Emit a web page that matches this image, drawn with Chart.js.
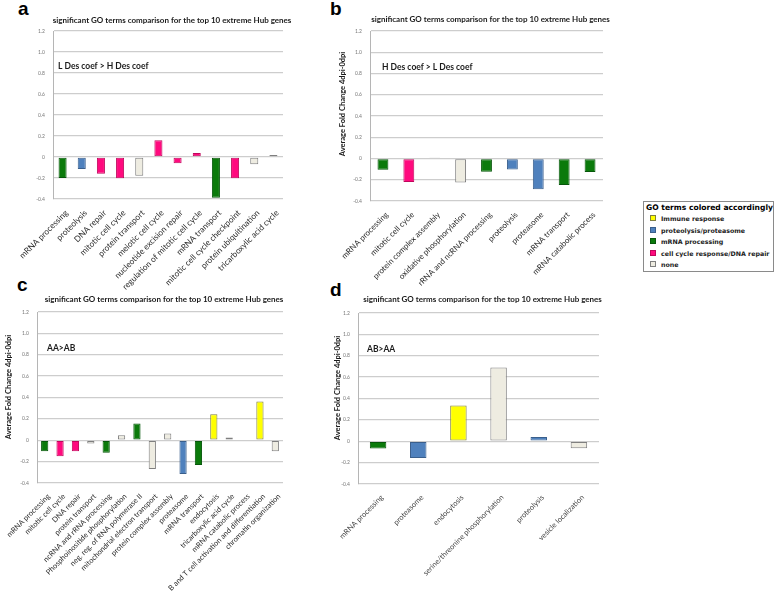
<!DOCTYPE html>
<html lang="en">
<head>
<meta charset="UTF-8">
<title>significant GO terms comparison for the top 10 extreme Hub genes</title>
<script src="https://cdn.jsdelivr.net/npm/chart.js"></script>
<style>
  body { margin: 0; background: #fff; width: 778px; height: 596px; position: relative; overflow: hidden; }
  canvas { position: absolute; }
  .tag { position: absolute; font: bold 19px "Liberation Sans", Arial, sans-serif; line-height: 19px; color: #000; }
  #legend { position: absolute; left: 643px; top: 201px; width: 129px; height: 69px; border: 1px solid #8a8a8a;
            font-family: "DejaVu Sans", sans-serif; color: #222; white-space: nowrap; overflow: hidden; }
  #legend .lt { font-weight: bold; font-size: 7.6px; color: #000; padding: 1px 0 0 2px; height: 10px; line-height: 10px; }
  #legend .li { font-weight: bold; font-size: 6.3px; height: 11.6px; line-height: 11.6px; padding-left: 6px; }
  #legend .sw { display: inline-block; width: 4px; height: 4px; border: 1px solid #666; margin-right: 5px; vertical-align: 0px; }
</style>
</head>
<body>
<div class="tag" style="left:18px;top:-1px">a</div>
<div class="tag" style="left:330px;top:-1px">b</div>
<div class="tag" style="left:17px;top:275px">c</div>
<div class="tag" style="left:330px;top:280px">d</div>

<canvas id="chartA" style="left:0px;top:0px" width="305" height="295"></canvas>
<canvas id="chartB" style="left:300px;top:0px" width="320" height="295"></canvas>
<canvas id="chartC" style="left:0px;top:290px" width="305" height="306"></canvas>
<canvas id="chartD" style="left:300px;top:290px" width="320" height="306"></canvas>

<div id="legend"></div>

<script>
// shared y ticks
const yTicks = [-0.4, -0.2, 0, 0.2, 0.4, 0.6, 0.8, 1, 1.2];

// groups: imm = Immune response, prot = proteolysis/proteasome, mrna = mRNA processing,
// cell = cell cycle response/DNA repair, none = none
const legendLabels = ["Immune response", "proteolysis/proteasome", "mRNA processing", "cell cycle response/DNA repair", "none"];
const legendGroups = ["imm", "prot", "mrna", "cell", "none"];

const fillColors = { imm: "#ffff00", prot: "#4f81bd", mrna: "#0b7a0b", cell: "#ff0a7e", none: "#eeece1" };
const edgeColors = { imm: "#7f7f3f", prot: "#3a5f8c", mrna: "#06570a", cell: "#c0075c", none: "#7f7f7f" };

// panel a
const aLabels = ["mRNA processing", "proteolysis", "DNA repair", "mitotic cell cycle", "protein transport",
  "meiotic cell cycle", "nucleotide excision repair", "regulation of mitotic cell cycle", "mRNA transport",
  "mitotic cell cycle checkpoint", "protein ubiquitination", "tricarboxylic acid cycle"];
const aValues = [-0.2, -0.114, -0.159, -0.203, -0.178, 0.159, -0.06, 0.038, -0.387, -0.203, -0.07, 0.019];
const aGroups = ["mrna", "prot", "cell", "cell", "none", "cell", "cell", "cell", "mrna", "cell", "none", "none"];

// panel b
const bLabels = ["mRNA processing", "mitotic cell cycle", "protein complex assembly", "oxidative phosphorylation",
  "rRNA and ncRNA processing", "proteolysis", "proteasome", "mRNA transport", "mRNA catabolic process"];
const bValues = [-0.107, -0.22, 0.01, -0.226, -0.125, -0.103, -0.29, -0.25, -0.128];
const bGroups = ["mrna", "cell", "none", "none", "mrna", "prot", "prot", "mrna", "mrna"];

// panel c
const cLabels = ["mRNA processing", "mitotic cell cycle", "DNA repair", "protein transport", "ncRNA and rRNA processing",
  "Phosphoinositide phosphorylation", "neg. reg. of RNA polymerase II", "mitochondrial electron transport",
  "protein complex assembly", "proteasome", "mRNA transport", "endocytosis", "tricarboxylic acid cycle",
  "mRNA catabolic process", "B and T cell activation and differentiation", "chromatin organization"];
const cValues = [-0.103, -0.15, -0.103, -0.031, -0.116, 0.047, 0.156, -0.269, 0.062, -0.316, -0.231, 0.244, 0.025, 0.006, 0.362, -0.103];
const cGroups = ["mrna", "cell", "cell", "none", "mrna", "none", "mrna", "none", "none", "prot", "mrna", "imm", "none", "none", "imm", "none"];

// panel d
const dLabels = ["mRNA processing", "proteasome", "endocytosis", "serine/threonine phosphorylation", "proteolysis", "vesicle localization"];
const dValues = [-0.069, -0.156, 0.334, 0.69, 0.04, -0.066];
const dGroups = ["mrna", "prot", "imm", "none", "prot", "none"];

const chartTitle = "significant GO terms comparison for the top 10 extreme Hub genes";
const yTitle = "Average Fold Change 4dpi-0dpi";

// free text drawn over each panel
const panelText = {
  id: "panelText",
  afterDraw(chart, args, o) {
    const ctx = chart.ctx, a = chart.chartArea, y = chart.scales.y;
    ctx.save();
    ctx.fillStyle = "#1a1a1a";
    ctx.textBaseline = "middle";
    ctx.font = "bold 8px Lato";
    ctx.textAlign = "center";
    ctx.fillText(chartTitle, (a.left + a.right) / 2 + o.titleDx, o.titleY);
    ctx.font = "bold 8.5px Lato";
    ctx.textAlign = "left";
    ctx.fillText(o.note, a.left + o.noteDx, y.getPixelForValue(0.86));
    if (o.yTitleX) {
      ctx.translate(o.yTitleX, o.yTitleY);
      ctx.rotate(-Math.PI / 2);
      ctx.textAlign = "center";
      ctx.font = "bold 7.5px Lato";
      ctx.fillText(yTitle, 0, 0);
    }
    ctx.restore();
  }
};

function makePanel(id, labels, values, groups, p) {
  new Chart(document.getElementById(id), {
    type: "bar",
    data: {
      labels: labels,
      datasets: [{
        data: values,
        backgroundColor: groups.map(g => fillColors[g]),
        borderColor: groups.map(g => edgeColors[g]),
        borderWidth: 1,
        borderSkipped: false,
        barPercentage: p.bar,
        categoryPercentage: 1
      }]
    },
    options: {
      responsive: false,
      animation: false,
      layout: { padding: { top: p.top, right: p.right, left: 0, bottom: 0 } },
      plugins: {
        legend: { display: false },
        tooltip: { enabled: false },
        panelText: p.text
      },
      scales: {
        x: {
          grid: { display: false },
          border: { display: false },
          ticks: {
            autoSkip: false, minRotation: 45, maxRotation: 45, padding: 1, labelOffset: 4,
            color: p.xColor, font: { family: "Lato", size: p.xFont }
          },
          afterFit: s => { s.height = p.xHeight; }
        },
        y: {
          min: -0.4, max: 1.2,
          afterBuildTicks: s => { s.ticks = yTicks.map(v => ({ value: v })); },
          grid: { color: "#cdcdcd", lineWidth: 1.3, drawTicks: false },
          border: { display: true, color: "#b5b5b5", width: 1 },
          ticks: { padding: 8, color: "#777", font: { family: "Lato", size: 5 } },
          afterFit: s => { s.width = p.yWidth; }
        }
      }
    },
    plugins: [panelText]
  });
}

makePanel("chartA", aLabels, aValues, aGroups, {
  bar: 0.42, top: 31, right: 22, yWidth: 53, xHeight: 96, xFont: 8.3, xColor: "#2a2a2a",
  text: { titleDx: 4, titleY: 20, note: "L Des coef > H Des coef", noteDx: 5 }
});
makePanel("chartB", bLabels, bValues, bGroups, {
  bar: 0.42, top: 31, right: 17, yWidth: 70, xHeight: 94, xFont: 8, xColor: "#2a2a2a",
  text: { titleDx: 4, titleY: 19, note: "H Des coef > L Des coef", noteDx: 12, yTitleX: 43, yTitleY: 104 }
});
makePanel("chartC", cLabels, cValues, cGroups, {
  bar: 0.47, top: 22, right: 22, yWidth: 37, xHeight: 113, xFont: 7.4, xColor: "#2a2a2a",
  text: { titleDx: 4, titleY: 9, note: "AA>AB", noteDx: 10, yTitleX: 8.5, yTitleY: 97 }
});
makePanel("chartD", dLabels, dValues, dGroups, {
  bar: 0.41, top: 23, right: 21, yWidth: 58, xHeight: 112, xFont: 7.5, xColor: "#444",
  text: { titleDx: 4, titleY: 9, note: "AB>AA", noteDx: 9, yTitleX: 38, yTitleY: 98 }
});

// legend box
const legend = document.getElementById("legend");
legend.innerHTML = '<div class="lt">GO terms colored accordingly</div>' +
  legendLabels.map((t, i) => '<div class="li"><span class="sw" style="background:' + fillColors[legendGroups[i]] +
    ';border-color:' + edgeColors[legendGroups[i]] + '"></span>' + t + '</div>').join("");
</script>
</body>
</html>
